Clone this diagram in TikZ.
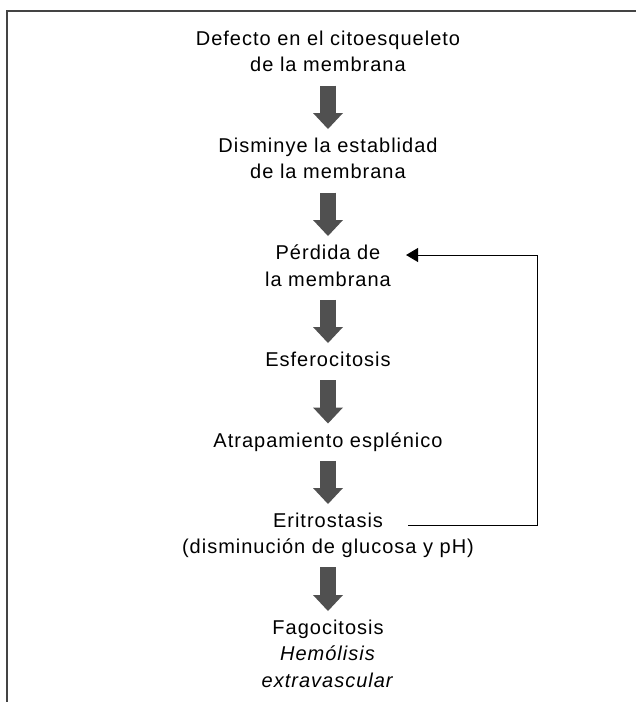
\documentclass[tikz,border=0pt]{standalone}
\usepackage{fontspec}
\setmainfont{Liberation Sans}[LetterSpace=5]
\usetikzlibrary{arrows.meta}
\definecolor{arrowgray}{HTML}{505050}
\definecolor{framegray}{HTML}{444444}

\begin{document}
\begin{tikzpicture}
  [x=1pt,y=1pt,
   stage/.style={align=center,inner sep=0pt,text depth=0pt,anchor=north,
                 font=\fontsize{20pt}{26.5pt}\selectfont},
   bigarrow/.style={draw=arrowgray,line width=16pt,shorten <=13.5pt,shorten >=8.7pt,
                    -{Triangle[width=30pt,length=16pt,line width=0pt]}},
   feedback/.style={draw=black,line width=0.9pt,-{Triangle[width=14pt,length=12pt]}}]
  \useasboundingbox (0,0) rectangle (636,-702);
  \draw[framegray,line width=1.6pt] (7,-702) -- (7,-11) -- (640,-11);
  \node[stage] (defecto) at (328,-30.7) {Defecto en el citoesqueleto\\de la membrana};
  \node[stage] (disminuye) at (328,-137.7) {Disminye la establidad\\de la membrana};
  \node[stage] (perdida) at (328,-244.7) {Pérdida de\\la membrana};
  \node[stage] (esfero) at (328,-351.7) {Esferocitosis};
  \node[stage] (atrapa) at (328,-432.2) {Atrapamiento esplénico};
  \node[stage] (eritro) at (328,-512.7) {Eritrostasis};
  \node[stage,anchor=base] (glucosa) at (328,-553.5) {(disminución de glucosa y pH)};
  \node[stage] (fago) at (328,-619.7) {Fagocitosis\\\textit{Hemólisis}\\\textit{extravascular}};
  \coordinate (loopback) at (537,-255);
  \draw[bigarrow] (defecto) -- (disminuye);
  \draw[bigarrow] (disminuye) -- (perdida);
  \draw[bigarrow] (perdida) -- (esfero);
  \draw[bigarrow] (esfero) -- (atrapa);
  \draw[bigarrow] (atrapa) -- (eritro);
  \draw[bigarrow] (glucosa) -- (fago);
  \draw[feedback] ([xshift=25pt,yshift=2pt]eritro.base east) -| (loopback)
    -- ([shift={(15pt,-10.3pt)}]perdida.north east);
\end{tikzpicture}
\end{document}
